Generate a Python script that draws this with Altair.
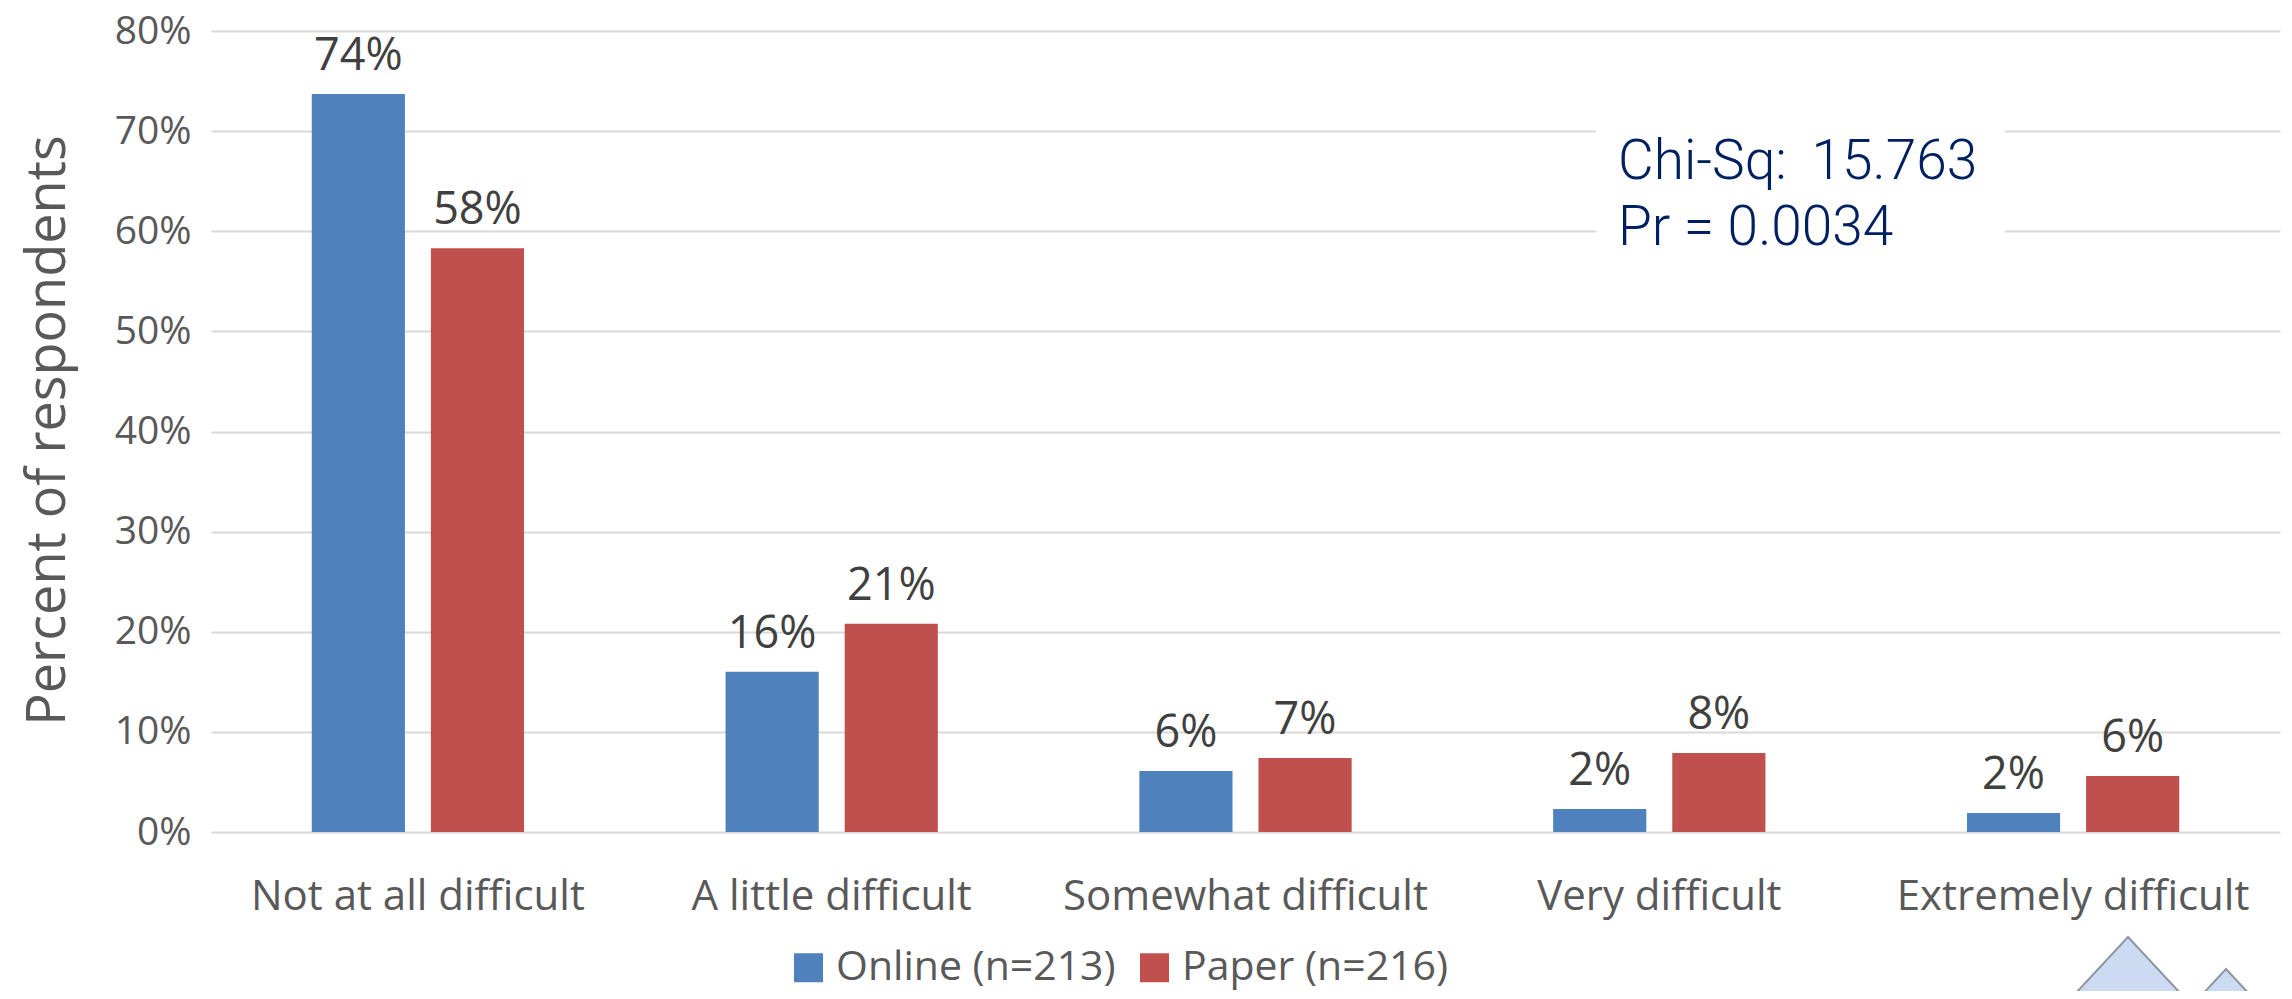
import altair as alt
import pandas as pd

# ---- data ----
categories = ["Not at all difficult", "A little difficult", "Somewhat difficult",
              "Very difficult", "Extremely difficult"]
series_names = ["Online (n=213)", "Paper (n=216)"]
online_pct = [73.7, 16.0, 6.1, 2.3, 1.9]
paper_pct = [58.3, 20.8, 7.4, 7.9, 5.6]
y_ticks = [0, 10, 20, 30, 40, 50, 60, 70, 80]
annotation_lines = ["Chi-Sq:\u00a0\u200915.763", "Pr\u00a0=\u00a00.0034"]
colors = ["#4F81BD", "#C0504D"]

rows = []
for cat, o, p in zip(categories, online_pct, paper_pct):
    rows.append({"category": cat, "series": series_names[0], "pct": o, "label": f"{round(o)}%"})
    rows.append({"category": cat, "series": series_names[1], "pct": p, "label": f"{round(p)}%"})
df = pd.DataFrame(rows)

GRAY = "#595959"
FONT = "Open Sans"

base = alt.Chart(df).encode(
    x=alt.X(
        "category:N", sort=categories, title=None,
        scale=alt.Scale(paddingInner=0.487, paddingOuter=0.2435),
        axis=alt.Axis(labelFontSize=42, labelColor=GRAY, labelFont=FONT, labelPadding=44,
                      ticks=False, domain=False, grid=False, labelAngle=0, labelLimit=600),
    ),
    xOffset=alt.XOffset("series:N", sort=series_names, scale=alt.Scale(paddingInner=0.218)),
    y=alt.Y(
        "pct:Q", scale=alt.Scale(domain=[0, 80], nice=False),
        axis=alt.Axis(values=y_ticks, labelExpr="datum.value + '%'", labelFontSize=39,
                      labelColor=GRAY, labelFont=FONT, labelPadding=20, ticks=False,
                      domain=False, grid=True, gridColor="#D9D9D9", gridWidth=2,
                      title="Percent of respondents", titleFont=FONT, titleFontSize=54,
                      titleFontWeight="normal", titleColor=GRAY, titleAngle=-90,
                      titleX=-163, titleY=399, titleAlign="center", titleBaseline="middle"),
    ),
)

bars = base.mark_bar().encode(
    color=alt.Color(
        "series:N", sort=series_names,
        scale=alt.Scale(domain=series_names, range=colors),
        legend=alt.Legend(orient="none", legendX=577, legendY=916, direction="horizontal",
                          title=None, symbolType="square", symbolSize=841,
                          symbolStrokeWidth=0, labelFontSize=41, labelFont=FONT,
                          labelColor=GRAY, labelOffset=7, columnPadding=18, labelLimit=600),
    )
)

labels = base.mark_text(baseline="alphabetic", dy=-24, fontSize=45, color="#404040",
                        font=FONT).encode(text="label:N")

one = pd.DataFrame({"k": [0]})
box = alt.Chart(one).mark_rect(color="white").encode(
    x=alt.value(1385), x2=alt.value(1794), y=alt.value(68), y2=alt.value(231)
)
ann = alt.Chart(one).mark_text(align="left", baseline="middle", lineHeight=66,
                               font="Roboto", fontWeight=300, fontSize=55,
                               color="#002060").encode(
    x=alt.value(1407), y=alt.value(131), text=alt.value(annotation_lines)
)

# decorative mountain logo peeking in at the bottom-right corner
peak_path = "M0,-1L0.93,0L-0.93,0Z"
deco_big = alt.Chart(one).mark_point(shape=peak_path, filled=True, fill="#CCDAF2",
                                     stroke="#8F96A3", strokeWidth=2, opacity=1).encode(
    x=alt.value(1917), y=alt.value(968), size=alt.value(15376)
)
deco_small = alt.Chart(one).mark_point(shape=peak_path, filled=True, fill="#CCDAF2",
                                       stroke="#8F96A3", strokeWidth=2, opacity=1).encode(
    x=alt.value(2015), y=alt.value(968), size=alt.value(3600)
)

chart = alt.layer(bars, labels, box, ann, deco_big, deco_small).properties(
    width=2069, height=801,
    autosize=alt.AutoSizeParams(type="none"),
    padding={"left": 203, "top": 23, "right": 4, "bottom": 159},
    background="white",
).configure_view(stroke=None)

chart.save("out.html", embed_options={"renderer": "svg", "actions": False})
